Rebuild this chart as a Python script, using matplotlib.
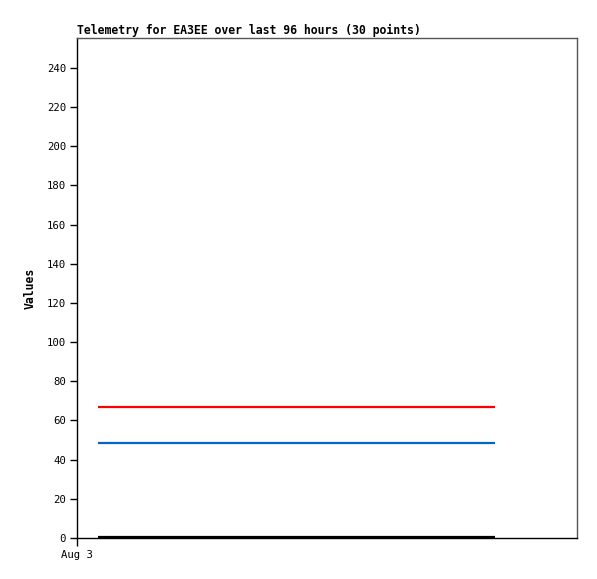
#!/usr/bin/env python3

import matplotlib
matplotlib.use("Agg")
from matplotlib import pyplot as plt

# hours since Aug 3 00:00, one per telemetry point
hours = [1.0, 1.66, 2.31, 2.97, 3.63, 4.28, 4.94, 5.6, 6.25, 6.91,
         7.57, 8.22, 8.88, 9.54, 10.19, 10.85, 11.51, 12.16, 12.82, 13.48,
         14.13, 14.79, 15.45, 16.1, 16.76, 17.42, 18.07, 18.73, 19.39, 20.05]
ch_red = [67.0] * 30
ch_blue = [48.5] * 30
ch_black = [0.3] * 30

xticks = [0]
xticklabels = ["Aug 3"]
yticks = [0, 20, 40, 60, 80, 100, 120, 140, 160, 180, 200, 220, 240]

W, H = 597, 579
fig = plt.figure(figsize=(W/100, H/100), dpi=100)
ax = fig.add_axes([77/W, (H-538)/H, 500/W, 500/H])

ax.plot(hours, ch_red, color="#ff0000", lw=1.6, solid_capstyle="butt")
ax.plot(hours, ch_blue, color="#0066cc", lw=1.6, solid_capstyle="butt")
ax.plot(hours, ch_black, color="#000000", lw=1.6, solid_capstyle="butt")

ax.set_xlim(0, 24)
ax.set_ylim(0, 255.3)
ax.set_yticks(yticks)
ax.set_xticks(xticks)
ax.set_xticklabels(xticklabels)

mono = "DejaVu Sans Mono"
for lab in ax.get_xticklabels() + ax.get_yticklabels():
    lab.set_family(mono)
    lab.set_fontsize(7.7)
ax.tick_params(axis="y", length=5, width=1, pad=3)
ax.tick_params(axis="x", length=6, width=1, pad=3)

ax.spines["left"].set_color("black")
ax.spines["bottom"].set_color("black")
ax.spines["top"].set_color("#555555")
ax.spines["right"].set_color("#555555")
for s in ax.spines.values():
    s.set_linewidth(1)

ax.set_title("Telemetry for EA3EE over last 96 hours (30 points)", loc="left",
             family=mono, fontsize=8.3, fontweight="bold", pad=3)
ax.set_ylabel("Values", family=mono, fontsize=8.3, fontweight="bold", labelpad=7)

fig.savefig("out.png", dpi=100)
